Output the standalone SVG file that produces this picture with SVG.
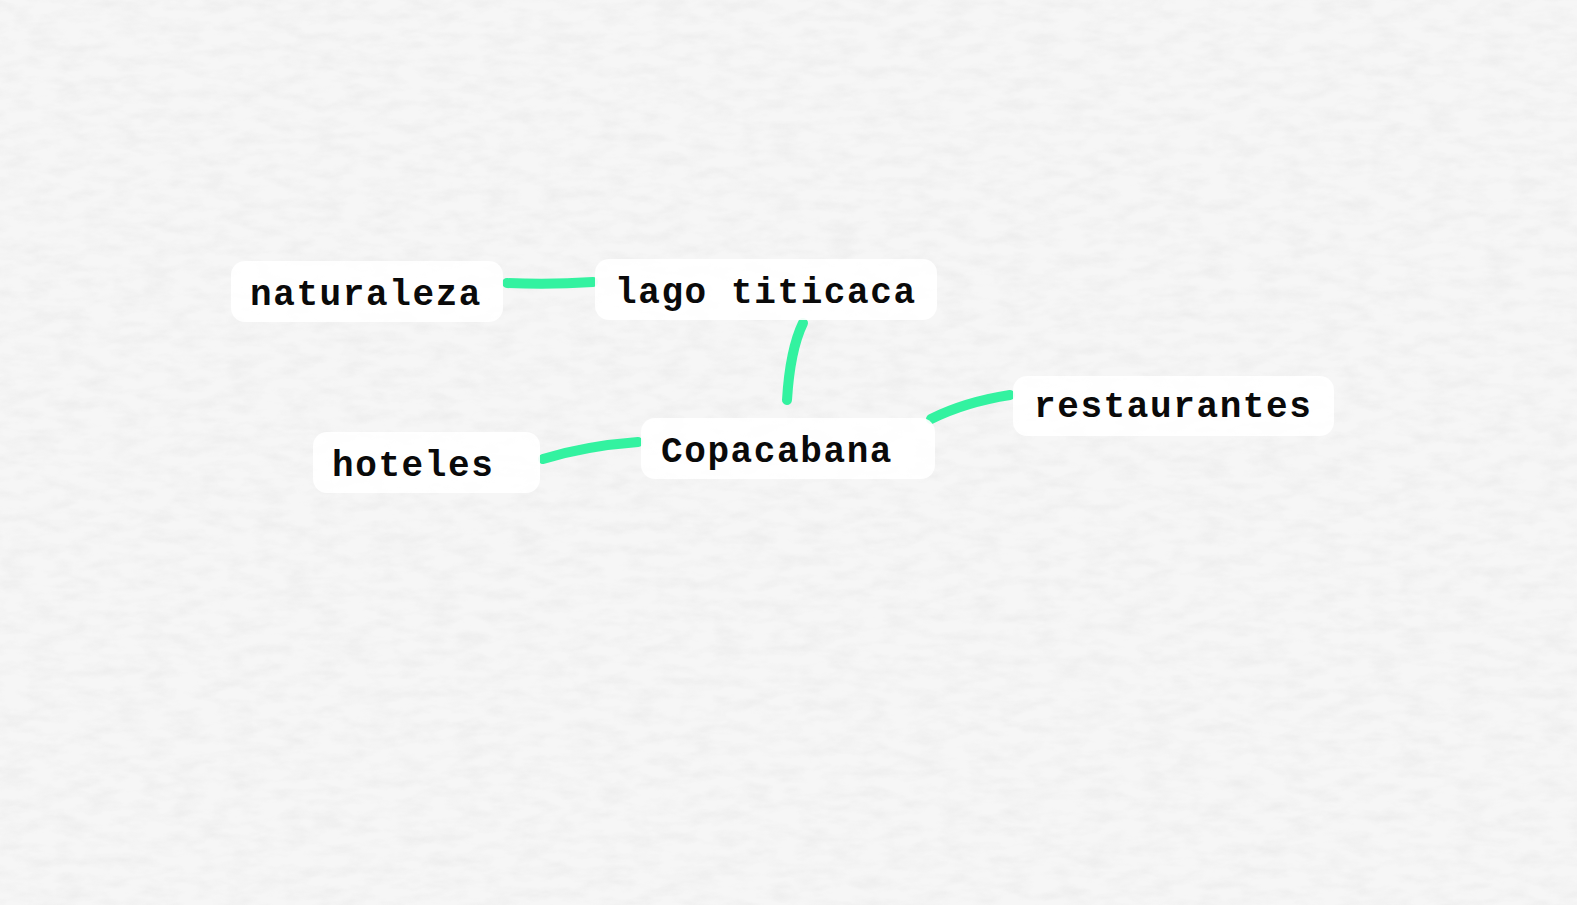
<svg xmlns="http://www.w3.org/2000/svg" width="1577" height="905" viewBox="0 0 1577 905">
  <defs>
    <filter id="paper" x="0" y="0" width="100%" height="100%">
      <feTurbulence type="fractalNoise" baseFrequency="0.035 0.09" numOctaves="3" seed="7" result="n"/>
      <feColorMatrix in="n" type="matrix" values="0 0 0 0 0.80  0 0 0 0 0.80  0 0 0 0 0.80  0 0 0 -1.6 1.0" result="c"/>
      <feComposite in="c" in2="SourceGraphic" operator="in"/>
    </filter>
    <style>
      .box { fill: #ffffff; fill-opacity: 0.92; }
      .label { font-family: "Liberation Mono", "Courier New", monospace; font-weight: bold; font-size: 36px; letter-spacing: 1.6px; fill: #0a0a0a; }
      .edge { fill: none; stroke: #33f2a0; stroke-width: 10; stroke-linecap: round; stroke-linejoin: round; }
    </style>
  </defs>
  <rect x="0" y="0" width="1577" height="905" fill="#f6f6f6"/>
  <rect x="0" y="0" width="1577" height="905" fill="#ffffff" filter="url(#paper)" opacity="0.6"/>

  <g id="connectors">
    <path class="edge" d="M507,283 Q550,285 593,282"/>
    <path class="edge" d="M803,323 Q790,350 787,400"/>
    <path class="edge" d="M543,459 Q585,446 638,442"/>
    <path class="edge" d="M931,419 Q965,402 1010,395"/>
  </g>

  <g id="node-naturaleza">
    <rect class="box" x="231" y="261" width="272" height="61" rx="14"/>
    <text class="label" x="250" y="305">naturaleza</text>
  </g>
  <g id="node-lago-titicaca">
    <rect class="box" x="595" y="259" width="342" height="61" rx="14"/>
    <text class="label" x="615" y="303">lago titicaca</text>
  </g>
  <g id="node-copacabana">
    <rect class="box" x="641" y="418" width="294" height="61" rx="14"/>
    <text class="label" x="661" y="462">Copacabana</text>
  </g>
  <g id="node-hoteles">
    <rect class="box" x="313" y="432" width="227" height="61" rx="14"/>
    <text class="label" x="332" y="476">hoteles</text>
  </g>
  <g id="node-restaurantes">
    <rect class="box" x="1013" y="376" width="321" height="60" rx="14"/>
    <text class="label" x="1034" y="417">restaurantes</text>
  </g>
</svg>
